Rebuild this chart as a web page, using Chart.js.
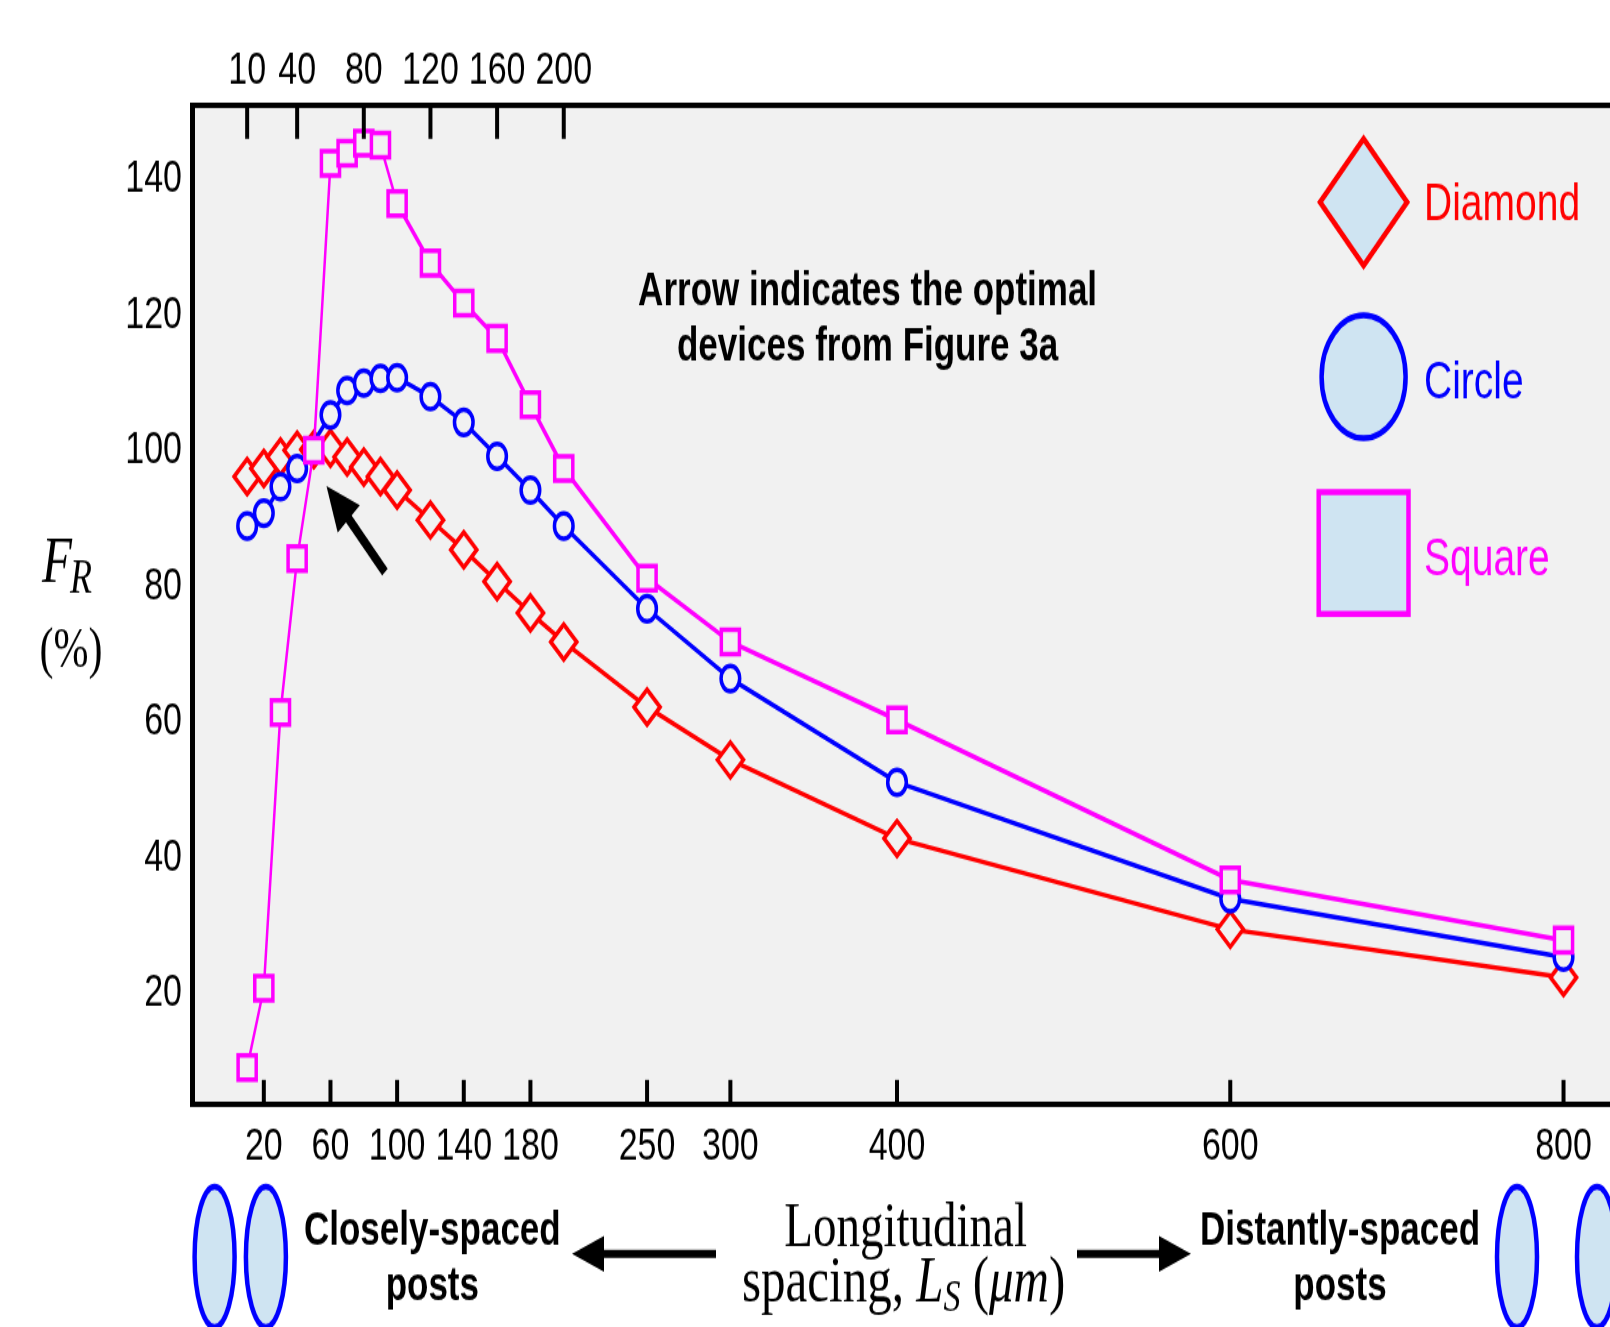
<!DOCTYPE html>
<html>
<head>
<meta charset="utf-8">
<script src="https://cdn.jsdelivr.net/npm/chart.js@4.4.1/dist/chart.umd.min.js"></script>
<style>
  html, body { margin: 0; padding: 0; background: #fff; overflow: hidden; width: 1610px; height: 1327px; }
  /* the original figure is stretched vertically, so draw flat and stretch the canvas */
  #wrap { position: absolute; left: 0; top: 0; width: 1700px; height: 983px; transform-origin: 0 0; transform: scaleY(1.35); }
  canvas { display: block; }
</style>
</head>
<body>
<div id="wrap"><canvas id="frChart" width="1700" height="983"></canvas></div>
<script>
// Longitudinal spacing L_S (um) and F_R (%) per post shape
const spacing   = [10, 20, 30, 40, 50, 60, 70, 80, 90, 100, 120, 140, 160, 180, 200, 250, 300, 400, 600, 800];
const diamondFR = [96.2, 97.4, 99.1, 100.1, 100.2, 100.4, 99.1, 97.6, 96.2, 94.2, 89.8, 85.4, 80.7, 76.1, 71.8, 62.2, 54.4, 42.8, 29.4, 22.3];
const circleFR  = [88.9, 90.8, 94.7, 97.4, null, 105.3, 108.9, 110.0, 110.7, 110.8, 108.0, 104.2, 99.2, 94.2, 88.9, 76.7, 66.4, 51.1, 33.9, 25.3];
const squareFR  = [9.0, 20.7, 61.4, 84.1, 100.1, 142.4, 143.9, 145.4, 145.1, 136.5, 127.7, 121.8, 116.6, 106.8, 97.4, 81.2, 71.8, 60.3, 36.7, 27.8];

const seriesNames = ['Diamond', 'Circle', 'Square'];
const bottomTicks = [20, 60, 100, 140, 180, 250, 300, 400, 600, 800];
const topTicks    = [10, 40, 80, 120, 160, 200];
const yTicks      = [20, 40, 60, 80, 100, 120, 140];

const PLOT_BG = '#f1f1f1';
const SHAPE_FILL = '#cfe4f2';
const RED = '#ff0000', BLUE = '#0000ff', MAGENTA = '#ff00ff';
const SANS = "'Liberation Sans', Arial, sans-serif";
const SERIF = "'Liberation Serif', 'Times New Roman', serif";

// arrow pointing at the optimal devices, in data units
const arrowTail = { x: 92.7, y: 82.1 };
const arrowTip  = { x: 57.6, y: 94.8 };

const toPoints = ys => spacing.map((x, i) => ({ x, y: ys[i] }));

function ellipse(ctx, cx, cy, rx, ry) {
    ctx.beginPath();
    ctx.ellipse(cx, cy, rx, ry, 0, 0, Math.PI * 2);
    ctx.fill();
    ctx.stroke();
}

function hArrow(ctx, fromX, baseX, tipX, y) {
    ctx.lineWidth = 6;
    ctx.beginPath();
    ctx.moveTo(fromX, y);
    ctx.lineTo(baseX, y);
    ctx.stroke();
    ctx.beginPath();
    ctx.moveTo(tipX, y);
    ctx.lineTo(baseX, y - 13.3);
    ctx.lineTo(baseX, y + 13.3);
    ctx.closePath();
    ctx.fill();
}

const figureDecor = {
    id: 'figureDecor',
    beforeDraw(chart) {
        const { ctx, chartArea: a } = chart;
        ctx.save();
        ctx.fillStyle = PLOT_BG;
        ctx.fillRect(a.left, a.top, a.right - a.left, a.bottom - a.top);
        ctx.restore();
    },
    afterDatasetsDraw(chart) {
        const { ctx, chartArea: a, scales } = chart;
        ctx.save();
        ctx.strokeStyle = '#000';
        ctx.fillStyle = '#000';
        ctx.lineWidth = 4;

        // inward tick marks
        scales.x2.ticks.forEach(t => {
            const px = scales.x2.getPixelForValue(t.value);
            ctx.beginPath(); ctx.moveTo(px, a.top); ctx.lineTo(px, a.top + 24.4); ctx.stroke();
        });
        scales.x.ticks.forEach(t => {
            const px = scales.x.getPixelForValue(t.value);
            ctx.beginPath(); ctx.moveTo(px, a.bottom); ctx.lineTo(px, a.bottom - 18.5); ctx.stroke();
        });

        // arrow
        const tx = scales.x.getPixelForValue(arrowTail.x), ty = scales.y.getPixelForValue(arrowTail.y);
        const hx = scales.x.getPixelForValue(arrowTip.x), hy = scales.y.getPixelForValue(arrowTip.y);
        const len = Math.hypot(hx - tx, hy - ty);
        const ux = (hx - tx) / len, uy = (hy - ty) / len;
        const bx = hx - ux * 33, by = hy - uy * 33;
        ctx.lineWidth = 7.5;
        ctx.beginPath(); ctx.moveTo(tx, ty); ctx.lineTo(bx + ux * 2, by + uy * 2); ctx.stroke();
        ctx.beginPath();
        ctx.moveTo(hx, hy);
        ctx.lineTo(bx - uy * 15, by + ux * 15);
        ctx.lineTo(bx + uy * 15, by - ux * 15);
        ctx.closePath();
        ctx.fill();
        ctx.restore();
    },
    afterDraw(chart) {
        const { ctx } = chart;
        ctx.save();

        // legend with big shape symbols
        const rows = [
            { cy: 149.8, text: 162.8 },
            { cy: 279.1, text: 294.6 },
            { cy: 409.6, text: 426 }
        ];
        chart.data.datasets.forEach((ds, i) => {
            const r = rows[i];
            ctx.fillStyle = SHAPE_FILL;
            ctx.strokeStyle = ds.borderColor;
            ctx.lineWidth = 4.5;
            const cx = 1363.6;
            if (ds.pointStyle === 'rectRot') {
                ctx.beginPath();
                ctx.moveTo(cx, r.cy - 47); ctx.lineTo(cx + 43.5, r.cy);
                ctx.lineTo(cx, r.cy + 47); ctx.lineTo(cx - 43.5, r.cy);
                ctx.closePath(); ctx.fill(); ctx.stroke();
            } else if (ds.pointStyle === 'circle') {
                ellipse(ctx, cx, r.cy, 42, 45.5);
            } else {
                ctx.beginPath();
                ctx.rect(cx - 44.9, r.cy - 45.1, 89.8, 90.2);
                ctx.fill(); ctx.stroke();
            }
            ctx.fillStyle = ds.borderColor;
            ctx.font = `39px ${SANS}`;
            ctx.textAlign = 'left';
            ctx.textBaseline = 'alphabetic';
            ctx.fillText(ds.label, 1424, r.text);
        });

        // annotation
        ctx.fillStyle = '#000';
        ctx.font = `bold 35px ${SANS}`;
        ctx.textAlign = 'center';
        ctx.fillText('Arrow indicates the optimal', 867.6, 225.8);
        ctx.fillText('devices from Figure 3a', 867.6, 266.8);

        // y axis title F_R (%)
        ctx.textAlign = 'left';
        ctx.font = `italic 49px ${SERIF}`;
        ctx.fillText('F', 42, 430.9);
        const fw = ctx.measureText('F').width;
        ctx.font = `italic 36px ${SERIF}`;
        ctx.fillText('R', 42 + fw - 2, 439.3);
        ctx.font = `42px ${SERIF}`;
        ctx.textAlign = 'center';
        ctx.fillText('(%)', 71, 494.3);

        // post sketches below the axis
        ctx.fillStyle = SHAPE_FILL;
        ctx.strokeStyle = BLUE;
        ctx.lineWidth = 4.5;
        [214.6, 265.9, 1517, 1597].forEach(cx => ellipse(ctx, cx, 931, 20, 52));

        ctx.fillStyle = '#000';
        ctx.strokeStyle = '#000';
        hArrow(ctx, 716, 604, 572, 928.7);
        hArrow(ctx, 1077, 1159, 1191, 928.7);

        ctx.font = `bold 35px ${SANS}`;
        ctx.textAlign = 'center';
        ctx.fillText('Closely-spaced', 432.3, 922);
        ctx.fillText('posts', 432.3, 962.5);
        ctx.fillText('Distantly-spaced', 1340, 922);
        ctx.fillText('posts', 1340, 962.5);

        // x axis title
        ctx.font = `47px ${SERIF}`;
        ctx.fillText('Longitudinal', 905.6, 922.6);
        const parts = [
            { t: 'spacing, ', f: `49px ${SERIF}`, dy: 0 },
            { t: 'L', f: `italic 49px ${SERIF}`, dy: 0 },
            { t: 'S', f: `italic 34px ${SERIF}`, dy: 7 },
            { t: ' (', f: `49px ${SERIF}`, dy: 0 },
            { t: 'μm', f: `italic 49px ${SERIF}`, dy: 0 },
            { t: ')', f: `49px ${SERIF}`, dy: 0 }
        ];
        let total = 0;
        parts.forEach(p => { ctx.font = p.f; p.w = ctx.measureText(p.t).width; total += p.w; });
        let x = 903.6 - total / 2;
        ctx.textAlign = 'left';
        parts.forEach(p => { ctx.font = p.f; ctx.fillText(p.t, x, 963.5 + p.dy); x += p.w; });

        ctx.restore();
    }
};

const tickFont = { family: SANS, size: 34 };
const X_MIN = -23.1, X_MAX = 872;

new Chart(document.getElementById('frChart'), {
    type: 'line',
    plugins: [figureDecor],
    data: {
        datasets: [
            {
                label: seriesNames[0], data: toPoints(diamondFR),
                borderColor: RED, borderWidth: 3.5,
                pointStyle: 'rectRot', pointRadius: 13, pointBorderWidth: 3.5,
                pointBorderColor: RED, pointBackgroundColor: PLOT_BG, order: 2
            },
            {
                label: seriesNames[1], data: toPoints(circleFR), spanGaps: true,
                borderColor: BLUE, borderWidth: 3.5,
                pointStyle: 'circle', pointRadius: 9.3, pointBorderWidth: 3.5,
                pointBorderColor: BLUE, pointBackgroundColor: PLOT_BG, order: 1
            },
            {
                label: seriesNames[2], data: toPoints(squareFR),
                borderColor: MAGENTA, borderWidth: 3.5,
                segment: { borderWidth: c => (c.p1.parsed.x <= 100 ? 2.5 : 3.5) },
                pointStyle: 'rect', pointRadius: 12.8, pointBorderWidth: 3.5,
                pointBorderColor: MAGENTA, pointBackgroundColor: PLOT_BG, order: 0
            }
        ]
    },
    options: {
        responsive: false,
        animation: false,
        devicePixelRatio: 1,
        events: [],
        layout: { padding: 0 },
        plugins: { legend: { display: false }, tooltip: { enabled: false } },
        scales: {
            x: {
                type: 'linear', position: 'bottom', min: X_MIN, max: X_MAX,
                afterFit: s => { s.height = 164.6; },
                afterBuildTicks: s => { s.ticks = bottomTicks.map(v => ({ value: v })); },
                grid: { display: false, drawTicks: false },
                border: { display: true, color: '#000', width: 4 },
                ticks: { color: '#000', font: tickFont, padding: 10.8, autoSkip: false, maxRotation: 0 }
            },
            x2: {
                type: 'linear', position: 'top', min: X_MIN, max: X_MAX,
                afterFit: s => { s.height = 78.4; },
                afterBuildTicks: s => { s.ticks = topTicks.map(v => ({ value: v })); },
                grid: { display: false, drawTicks: false },
                border: { display: true, color: '#000', width: 4 },
                ticks: { color: '#000', font: tickFont, padding: 5, autoSkip: false, maxRotation: 0 }
            },
            y: {
                type: 'linear', position: 'left', min: 3.5, max: 150.9,
                afterFit: s => { s.width = 192; },
                afterBuildTicks: s => { s.ticks = yTicks.map(v => ({ value: v })); },
                grid: { display: false, drawTicks: false },
                border: { display: true, color: '#000', width: 5 },
                ticks: { color: '#000', font: tickFont, padding: 10 }
            }
        }
    }
});
</script>
</body>
</html>
